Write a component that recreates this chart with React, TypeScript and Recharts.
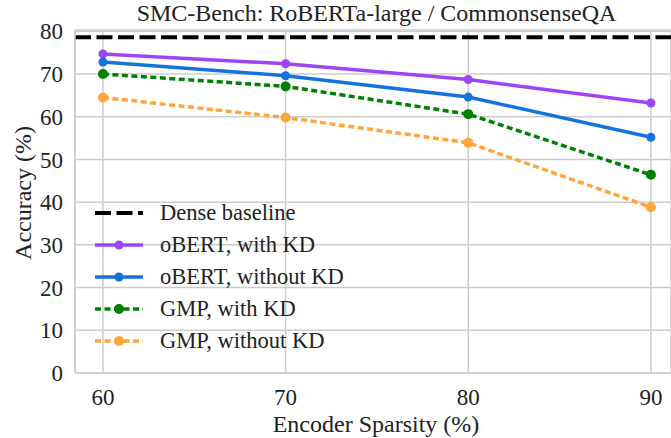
import React from "react";
import { LineChart, Line, XAxis, YAxis, CartesianGrid, ReferenceLine, Label } from "recharts";

const sparsity = [60, 70, 80, 90];
const obertWithKD = [74.7, 72.4, 68.7, 63.2];
const obertWithoutKD = [72.8, 69.6, 64.6, 55.2];
const gmpWithKD = [70.0, 67.1, 60.6, 46.4];
const gmpWithoutKD = [64.5, 59.8, 53.9, 38.8];
const denseBaseline = 78.6;
const yTicks = [0, 10, 20, 30, 40, 50, 60, 70, 80];

const FONT = '"Liberation Serif", "Times New Roman", serif';
const TEXT = "#222";
const GRID = "#cccccc";

const series = [
  { key: "obertWithKD", name: "oBERT, with KD", color: "#9b45f7", dash: undefined as string | undefined, width: 3.5, r: 4.5 },
  { key: "obertWithoutKD", name: "oBERT, without KD", color: "#1273de", dash: undefined, width: 3.5, r: 4.5 },
  { key: "gmpWithKD", name: "GMP, with KD", color: "#008000", dash: "6 3.5", width: 3.5, r: 5 },
  { key: "gmpWithoutKD", name: "GMP, without KD", color: "#ffa53a", dash: "6 3.5", width: 3.5, r: 5 },
];

const data = sparsity.map((x, i) => ({
  x,
  obertWithKD: obertWithKD[i],
  obertWithoutKD: obertWithoutKD[i],
  gmpWithKD: gmpWithKD[i],
  gmpWithoutKD: gmpWithoutKD[i],
}));

const legendRows = [
  { name: "Dense baseline", color: "#000", dash: "16 5.5", width: 4, r: 0 },
  ...series,
];

function LegendBox() {
  return (
    <div style={{ position: "absolute", left: 90, top: 197, fontFamily: FONT, fontSize: 22.5, color: TEXT }}>
      {legendRows.map((row) => (
        <div key={row.name} style={{ display: "flex", alignItems: "center", height: 32 }}>
          <svg width={70} height={32}>
            <line x1={5} x2={53} y1={16} y2={16} stroke={row.color} strokeWidth={row.width} strokeDasharray={row.dash} />
            {row.r > 0 && <circle cx={29} cy={16} r={row.r} fill={row.color} />}
          </svg>
          <span style={{ lineHeight: "32px" }}>{row.name}</span>
        </div>
      ))}
    </div>
  );
}

export default function App() {
  return (
    <div style={{ position: "absolute", left: 0, top: 0, width: 671, height: 438, background: "#fff", overflow: "hidden" }}>
      <div
        style={{
          position: "absolute",
          left: 0,
          width: 753,
          top: 0,
          textAlign: "center",
          fontFamily: FONT,
          fontSize: 24,
          color: TEXT,
          zIndex: 2,
        }}
      >
        SMC-Bench: RoBERTa-large / CommonsenseQA
      </div>
      <LineChart width={671} height={438} data={data} margin={{ top: 30, right: 0, bottom: 0, left: 0 }} style={{ fontFamily: FONT }}>
        <CartesianGrid stroke={GRID} strokeWidth={1.5} />
        <XAxis
          dataKey="x"
          type="number"
          domain={[58.47, 91.1]}
          ticks={sparsity}
          interval={0}
          allowDataOverflow
          height={65}
          tickLine={false}
          tickSize={0}
          tickMargin={16}
          axisLine={{ stroke: GRID, strokeWidth: 1.5 }}
          tick={{ fontSize: 23, fill: TEXT, fontFamily: FONT }}
        >
          <Label
            content={() => (
              <text x={376} y={432} textAnchor="middle" fontSize={24} fill={TEXT} fontFamily={FONT}>
                Encoder Sparsity (%)
              </text>
            )}
          />
        </XAxis>
        <YAxis
          type="number"
          domain={[0, 80.3]}
          ticks={yTicks}
          interval={0}
          allowDataOverflow
          width={75}
          tickLine={false}
          tickSize={0}
          tickMargin={12}
          axisLine={{ stroke: GRID, strokeWidth: 1.5 }}
          tick={{ fontSize: 23, fill: TEXT, fontFamily: FONT }}
        >
          <Label
            content={() => (
              <text x={31} y={193} textAnchor="middle" fontSize={24} fill={TEXT} fontFamily={FONT} transform="rotate(-90 31 193)">
                Accuracy (%)
              </text>
            )}
          />
        </YAxis>
        <ReferenceLine y={denseBaseline} stroke="#000" strokeWidth={4} strokeDasharray="16 5.5" />
        {series.map((s) => (
          <Line
            key={s.key}
            type="linear"
            dataKey={s.key}
            name={s.name}
            stroke={s.color}
            strokeWidth={s.width}
            strokeDasharray={s.dash}
            dot={{ r: s.r, fill: s.color, stroke: "none", strokeDasharray: undefined }}
            activeDot={false}
            isAnimationActive={false}
          />
        ))}
      </LineChart>
      <LegendBox />
    </div>
  );
}
